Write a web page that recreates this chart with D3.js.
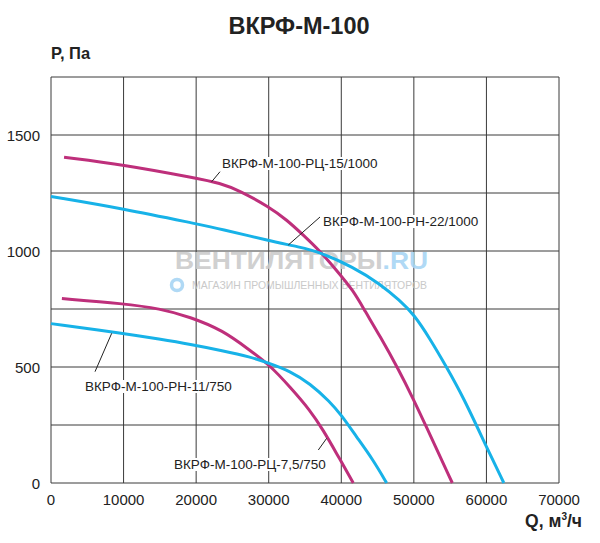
<!DOCTYPE html>
<html>
<head>
<meta charset="utf-8">
<style>
    body { margin: 0; background: #fff; }
    svg { display: block; font-family: "Liberation Sans", Arial, sans-serif; }
    .grid line { stroke: #3a3a3a; stroke-width: 1; }
    .tick-label { font-size: 15px; fill: #222; }
    .curve-label { font-size: 13.5px; fill: #222; }
</style>
</head>
<body>
<svg width="600" height="543"></svg>
<script src="https://d3js.org/d3.v7.min.js"></script>
<script>
    // axis ticks
    let xTicks = [0, 10000, 20000, 30000, 40000, 50000, 60000, 70000];
    let yTicks = [0, 500, 1000, 1500];
    let yGrid = [0, 250, 500, 750, 1000, 1250, 1500, 1750];

    // ВКРФ-М-100-РЦ-15/1000
    let rc15Q = [1800, 10000, 20000, 23300, 26000, 30000, 32500, 34750, 37050, 39350, 41640, 43250, 45300, 47850, 50000, 51500, 55300];
    let rc15P = [1404, 1372, 1314, 1293, 1260, 1191, 1134, 1069, 1000, 917, 830, 742, 635, 492, 357, 257, 0];

    // ВКРФ-М-100-РН-22/1000
    let rn22Q = [0, 10000, 20000, 23300, 30000, 34300, 37050, 41640, 45300, 48050, 50000, 52200, 54500, 56800, 60000, 62400];
    let rn22P = [1235, 1182, 1117, 1096, 1044, 1017, 995, 931, 859, 787, 727, 623, 500, 371, 156, 0];

    // ВКРФ-М-100-РЦ-7,5/750
    let rc75Q = [1500, 10000, 15000, 19150, 23700, 27400, 30150, 32900, 35700, 37500, 39350, 41650];
    let rc75P = [795, 773, 752, 716, 658, 572, 508, 415, 314, 228, 128, 0];

    // ВКРФ-М-100-РН-11/750
    let rn11Q = [0, 10000, 15000, 19150, 23700, 27400, 30150, 32900, 35700, 38450, 40000, 42100, 44400, 46250];
    let rn11P = [687, 645, 620, 598, 570, 544, 515, 483, 429, 350, 293, 199, 99, 0];

    let magenta = "#be2f7b";
    let cyan = "#17b2e8";

    let svg = d3.select("svg");
    let margin = { top: 77, right: 41, bottom: 60, left: 51 };
    let width = 600, height = 543;

    let x = d3.scaleLinear().domain([0, 70000]).range([margin.left, width - margin.right]);
    let y = d3.scaleLinear().domain([0, 1750]).range([height - margin.bottom, margin.top]);

    // grid
    let grid = svg.append("g").attr("class", "grid");
    grid.selectAll(".v").data(xTicks).join("line")
        .attr("x1", d => x(d)).attr("x2", d => x(d))
        .attr("y1", y(0)).attr("y2", y(1750));
    grid.selectAll(".h").data(yGrid).join("line")
        .attr("x1", x(0)).attr("x2", x(70000))
        .attr("y1", d => y(d)).attr("y2", d => y(d));

    // watermark
    let wm = svg.append("g").attr("opacity", 0.9);
    let wmText = wm.append("text")
        .attr("x", 175).attr("y", 268.5)
        .attr("font-size", 24).attr("font-weight", "bold")
        .attr("textLength", 253).attr("lengthAdjust", "spacingAndGlyphs")
        .attr("fill", "#cbcbcb");
    wmText.append("tspan").text("ВЕНТИЛЯТОРЫ");
    wmText.append("tspan").attr("fill", "#a8d5f4").text(".RU");
    wm.append("circle").attr("cx", 177).attr("cy", 285).attr("r", 5.5)
        .attr("fill", "none").attr("stroke", "#a8d5f4").attr("stroke-width", 3.5);
    wm.append("text")
        .attr("x", 192).attr("y", 289)
        .attr("font-size", 11)
        .attr("textLength", 235).attr("lengthAdjust", "spacingAndGlyphs")
        .attr("fill", "#c4c4c4")
        .text("МАГАЗИН ПРОМЫШЛЕННЫХ ВЕНТИЛЯТОРОВ");

    // curves (basis smooths the read-off points)
    let line = d3.line()
        .x(d => x(d[0]))
        .y(d => y(d[1]))
        .curve(d3.curveBasis);

    let series = [
        { q: rc15Q, p: rc15P, color: magenta },
        { q: rn22Q, p: rn22P, color: cyan },
        { q: rc75Q, p: rc75P, color: magenta },
        { q: rn11Q, p: rn11P, color: cyan }
    ];

    svg.append("g").selectAll("path")
        .data(series)
        .join("path")
        .attr("d", s => line(d3.zip(s.q, s.p)))
        .attr("fill", "none")
        .attr("stroke", s => s.color)
        .attr("stroke-width", 3);

    // curve labels with leader lines
    let labels = [
        { text: "ВКРФ-М-100-РЦ-15/1000", tx: 222, ty: 168, l: [211.7, 181.7, 220, 171.7] },
        { text: "ВКРФ-М-100-РН-22/1000", tx: 323, ty: 226, l: [288.3, 245, 320, 217] },
        { text: "ВКРФ-М-100-РН-11/750", tx: 85, ty: 391, l: [95, 371.7, 111.7, 333.3] },
        { text: "ВКРФ-М-100-РЦ-7,5/750", tx: 174, ty: 469, l: [318.3, 450, 326.7, 438.3] }
    ];

    let lab = svg.append("g");
    labels.forEach(d => {
        let g = lab.append("g");
        let bg = g.append("rect").attr("fill", "#fff");
        let t = g.append("text")
            .attr("class", "curve-label")
            .attr("x", d.tx).attr("y", d.ty)
            .text(d.text);
        let bb = t.node().getBBox();
        bg.attr("x", bb.x - 2).attr("y", bb.y + 1)
            .attr("width", bb.width + 4).attr("height", bb.height - 2);
        g.append("line")
            .attr("x1", d.l[0]).attr("y1", d.l[1])
            .attr("x2", d.l[2]).attr("y2", d.l[3])
            .attr("stroke", "#222").attr("stroke-width", 1);
    });

    // tick labels
    svg.append("g").selectAll("text")
        .data(yTicks).join("text")
        .attr("class", "tick-label")
        .attr("x", 40).attr("y", d => y(d) + 5.5)
        .attr("text-anchor", "end")
        .text(d => d);

    svg.append("g").selectAll("text")
        .data(xTicks).join("text")
        .attr("class", "tick-label")
        .attr("x", d => x(d)).attr("y", 505)
        .attr("text-anchor", "middle")
        .text(d => d);

    // titles
    svg.append("text")
        .attr("x", 299).attr("y", 34)
        .attr("text-anchor", "middle")
        .attr("font-size", 23.5).attr("font-weight", "bold").attr("fill", "#222")
        .text("ВКРФ-М-100");

    svg.append("text")
        .attr("x", 51).attr("y", 58.5)
        .attr("font-size", 16.5).attr("font-weight", "bold").attr("fill", "#222")
        .text("P, Па");

    let qt = svg.append("text")
        .attr("x", 582).attr("y", 527)
        .attr("text-anchor", "end")
        .attr("font-size", 17.5).attr("font-weight", "bold").attr("fill", "#222");
    qt.append("tspan").text("Q, м");
    qt.append("tspan").attr("font-size", 10).attr("dy", -7).text("3");
    qt.append("tspan").attr("dy", 7).text("/ч");
</script>
</body>
</html>
